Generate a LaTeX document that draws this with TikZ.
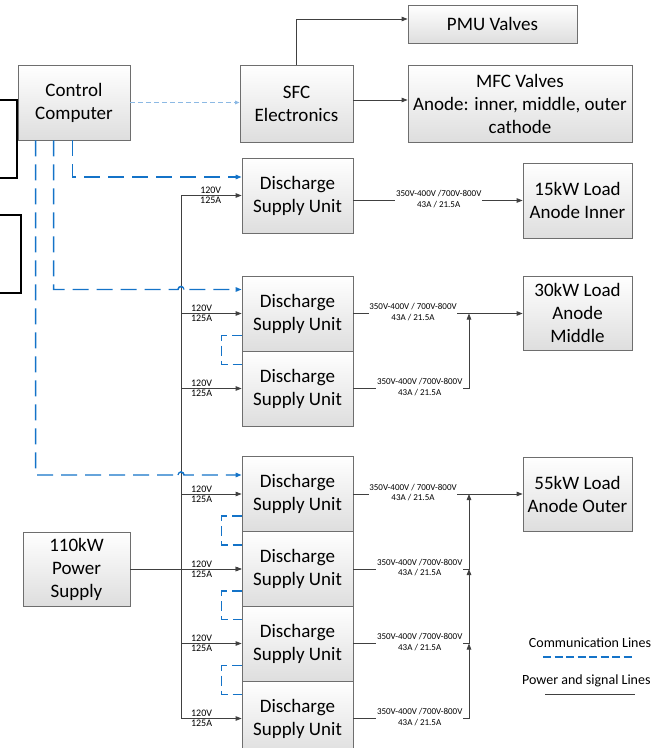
\documentclass[tikz,border=0pt]{standalone}
\usepackage{fontspec}
\setmainfont{Carlito}
\usetikzlibrary{arrows.meta}
\definecolor{commblue}{RGB}{20,115,200}
\definecolor{lightcomm}{RGB}{140,185,228}
\definecolor{boxline}{RGB}{110,110,110}
\definecolor{pwline}{RGB}{64,64,64}
\begin{document}
\begin{tikzpicture}[x=1pt,y=-1pt,
  box/.style={draw=boxline, line width=0.8pt, top color=white, bottom color=black!13, align=center,
    font=\fontsize{19}{23}\selectfont, inner sep=2pt},
  pw/.style={draw=pwline, line width=0.8pt},
  arr/.style={-{Triangle[length=6pt,width=4.5pt]}},
  comm/.style={color=commblue, line width=1.4pt, dash pattern=on 16pt off 8pt},
  chain/.style={color=commblue, line width=1.4pt, dash pattern=on 10pt off 5pt},
  lcomm/.style={color=lightcomm, line width=1.1pt, dash pattern=on 5pt off 3pt},
  inl/.style={font=\fontsize{10}{11}\selectfont, inner sep=1.2pt},
  outl/.style={fill=white, align=center, font=\fontsize{9}{10.5}\selectfont, inner sep=0.6pt},
  legt/.style={font=\fontsize{14}{16}\selectfont, inner sep=1pt}]
\useasboundingbox (0,0) rectangle (654,748);

% partial black boxes at left edge
\draw[line width=1.5pt] (-5,100) rectangle (17,178);
\draw[line width=1.5pt] (-5,215) rectangle (21,293);

% boxes
\node[box, minimum width=112pt, minimum height=75pt] (cc) at (74,102.5) {Control\\Computer};
\node[box, minimum width=113pt, minimum height=77pt] (sfc) at (296.5,103.5) {SFC\\Electronics};
\node[box, minimum width=169pt, minimum height=38pt] (pmu) at (492.5,24) {PMU Valves};
\node[box, minimum width=224pt, minimum height=77pt] (mfc) at (520,103.5) {MFC Valves\\Anode: inner, middle, outer\\cathode};

\node[box, minimum width=111pt, minimum height=75pt] (d1) at (297.5,195.5) {Discharge\\Supply Unit};
\node[box, minimum width=111pt, minimum height=75pt] (d2) at (297.5,313.5) {Discharge\\Supply Unit};
\node[box, minimum width=111pt, minimum height=75pt] (d3) at (297.5,388.5) {Discharge\\Supply Unit};
\node[box, minimum width=111pt, minimum height=75pt] (d4) at (297.5,494) {Discharge\\Supply Unit};
\node[box, minimum width=111pt, minimum height=75pt] (d5) at (297.5,569) {Discharge\\Supply Unit};
\node[box, minimum width=111pt, minimum height=75pt] (d6) at (297.5,643.5) {Discharge\\Supply Unit};
\node[box, minimum width=111pt, minimum height=75pt] (d7) at (297.5,718.5) {Discharge\\Supply Unit};

\node[box, minimum width=109pt, minimum height=75pt] (l15) at (577.5,200.5) {15kW Load\\Anode Inner};
\node[box, minimum width=109pt, minimum height=74pt] (l30) at (577.5,313) {30kW Load\\Anode\\Middle};
\node[box, minimum width=109pt, minimum height=74pt] (l55) at (577.5,494) {55kW Load\\Anode Outer};

\node[box, minimum width=107pt, minimum height=74pt] (ps) at (76.5,569) {110kW\\Power\\Supply};

% top connections
\draw[lcomm, -{Triangle[length=4.5pt,width=3.5pt]}] (cc.east) -- (cc.east -| sfc.west);
\draw[pw, arr] (sfc.north) |- ([yshift=5pt]pmu.west);
\draw[pw, arr] ([yshift=3.5pt]sfc.east) -- ([yshift=3.5pt]sfc.east -| mfc.west);

% power bus
\coordinate (bx) at (181,0);
\draw[pw] (d1.west -| bx) -- (d7.west -| bx);
\foreach \d/\p in {d1/0.49,d2/0.34,d3/0.34,d4/0.34,d5/0.34,d6/0.34,d7/0.34}{
  \draw[pw, arr] (\d.west -| bx) -- node[inl, pos=\p, above]{120V} node[inl, pos=\p, below]{125A} (\d.west);
}
\draw[pw, arr] (ps.east |- d5.west) -- (d5.west);

% communication lines
\draw[comm, arr] ([xshift=55pt]cc.south west) |- ([yshift=18.5pt]d1.west);
\draw[comm, arr] ([xshift=36pt]cc.south west) |- (178,289.5) arc[start angle=180,end angle=0,radius=3pt] -- ([yshift=24pt]d2.west);
\draw[comm, arr] ([xshift=18pt]cc.south west) |- (178,475) arc[start angle=180,end angle=0,radius=3pt] -- ([yshift=19pt]d4.west);
\draw[color=commblue, line width=1.2pt] (178,289.5) arc[start angle=180,end angle=0,radius=3pt];
\draw[color=commblue, line width=1.2pt] (178,475) arc[start angle=180,end angle=0,radius=3pt];

% daisy chains
\foreach \a/\b in {d2/d3,d4/d5,d5/d6,d6/d7}{
  \draw[chain] ([yshift=-22pt]\a.west) -- ++(-20,0) |- ([yshift=24pt]\b.west);
}

% outputs
\coordinate (vx) at (469,0);
\draw[pw, arr] (d1.east |- l15.west) -- (l15.west);
\draw[pw, arr] (d2.east) -- (d2.east -| l30.west);
\draw[pw, arr] (d3.east) -| (d2.east -| vx);
\draw[pw, arr] (d4.east) -- (d4.east -| l55.west);
\draw[pw, arr] (d5.east) -| (d4.east -| vx);
\draw[pw, arr] (d6.east) -| (d5.east -| vx);
\draw[pw, arr] (d7.east) -| (d6.east -| vx);

\node[outl] (o1) at (438.7,199) {350V-400V /700V-800V\\43A / 21.5A};
\node[outl] (o2) at (413,312) {350V-400V / 700V-800V\\43A / 21.5A};
\node[outl] (o3) at (419.7,387) {350V-400V /700V-800V\\43A / 21.5A};
\node[outl] (o4) at (413,492.5) {350V-400V / 700V-800V\\43A / 21.5A};
\node[outl] (o5) at (419.7,567.5) {350V-400V /700V-800V\\43A / 21.5A};
\node[outl] (o6) at (419.7,642) {350V-400V /700V-800V\\43A / 21.5A};
\node[outl] (o7) at (419.7,717) {350V-400V /700V-800V\\43A / 21.5A};

% legend
\node[legt] (lg1) at (590,643) {Communication Lines};
\coordinate (lc1) at (543,657); \coordinate (lc2) at (632,657);
\draw[color=commblue, line width=1.4pt, dash pattern=on 8pt off 3.5pt] (lc1) -- (lc2);
\node[legt, anchor=west] (lg2) at (521,681) {Power and signal Lines};
\coordinate (lp1) at (545,694); \coordinate (lp2) at (635,694);
\draw[pw] (lp1) -- (lp2);
\end{tikzpicture}
\end{document}
